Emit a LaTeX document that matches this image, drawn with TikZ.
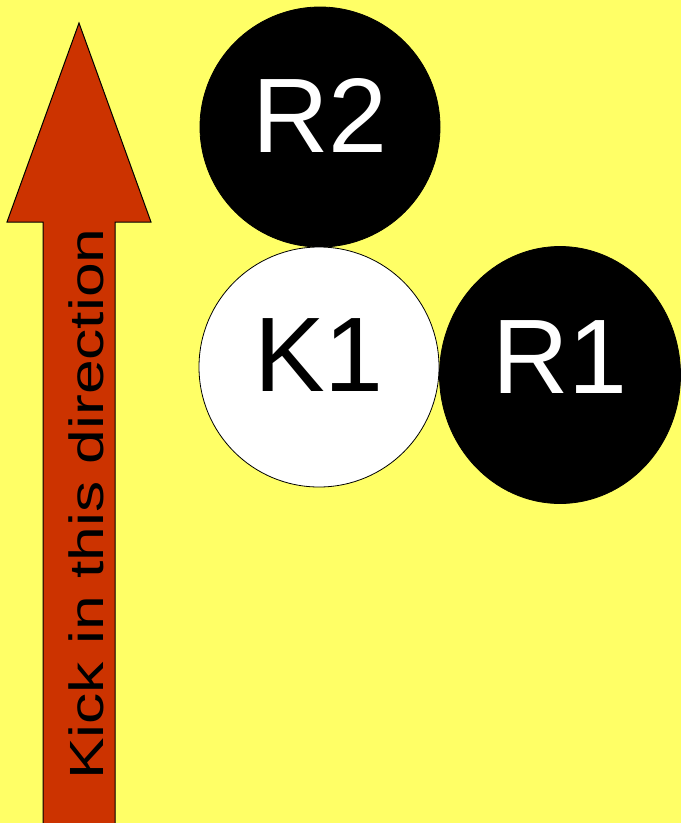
\documentclass[tikz,border=0pt]{standalone}
\usepackage{fontspec}
\setmainfont{Liberation Sans}
\usetikzlibrary{shapes.geometric}
\definecolor{pageyellow}{RGB}{255,255,102}
\definecolor{kickred}{RGB}{204,51,0}

\begin{document}
\begin{tikzpicture}[x=1pt,y=-1pt,
    ball/.style={circle,draw,line width=0.8pt,minimum size=240pt,inner sep=0pt,
        font=\fontsize{106}{106}\selectfont,text depth=24pt},
    black_ball/.style={ball,fill=black,text=white}]

    \fill[pageyellow] (0,0) rectangle (681,823);
    \useasboundingbox (0,0) rectangle (681,823);

    \draw[fill=kickred,line width=1pt] (43,823) -- (43,222) -- (7,222) -- (79,23)
        -- (151,222) -- (115,222) -- (115,823);
    \node[rotate=90,font=\fontsize{48}{48}\selectfont,xscale=1.3] (kick) at (86,504) {Kick in this direction};

    \node[black_ball] (R2) at (320,127) {R2};
    \node[ball,fill=white] (K1) at (319,367) {K1};
    \node[black_ball,ellipse,minimum width=241pt,minimum height=257pt,text depth=36pt] (R1) at (560,375) {R1};
\end{tikzpicture}
\end{document}
